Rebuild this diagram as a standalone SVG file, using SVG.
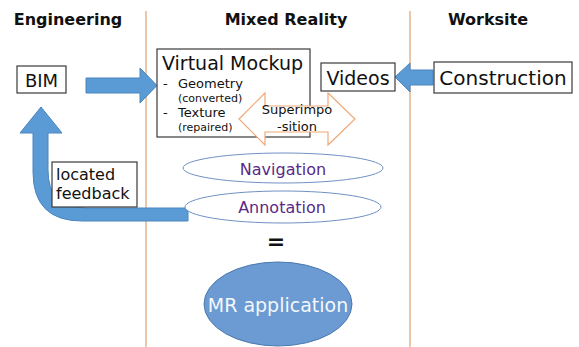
<svg xmlns="http://www.w3.org/2000/svg" width="579" height="347" viewBox="0 0 579 347">
<style>
text{font-family:"DejaVu Sans","Liberation Sans",sans-serif;fill:#111}
.hdr{font-size:16px;font-weight:bold;text-anchor:middle}
.box{fill:#fff;stroke:#3a3a3a;stroke-width:1.2}
.lane{stroke:#e0a070;stroke-width:1.2}
.blue{fill:#5b9bd5;stroke:#4a86c0;stroke-width:1}
.ell{fill:#fff;stroke:#7090c4;stroke-width:1}
.pur{fill:#5a2a86;font-size:16px;text-anchor:middle}
.sm{font-size:11px}
</style>
<rect width="579" height="347" fill="#fff"/>
<g id="lanes">
<line class="lane" x1="146" y1="11" x2="146" y2="347"/>
<line class="lane" x1="410" y1="11" x2="410" y2="347"/>
<text class="hdr" x="68" y="25">Engineering</text>
<text class="hdr" x="286" y="25">Mixed Reality</text>
<text class="hdr" x="488" y="25">Worksite</text>
</g>
<g id="connectors">
<polygon class="blue" points="86,78 140,78 140,68 157,85.5 140,103 140,93 86,93"/>
<polygon class="blue" points="433,70 410,70 410,63 395,77 410,92 410,85 433,85"/>
<path class="blue" d="M188,221 L82,221 Q33,221 33,172 L33,133 L20,133 L41,107 L62,133 L48,133 L48,170 Q48,208 86,208 L188,208 Z"/>
</g>
<g id="bim">
<rect class="box" x="17" y="66" width="49" height="27"/>
<text x="41.5" y="87" font-size="18" text-anchor="middle">BIM</text>
</g>
<g id="mockup">
<rect class="box" x="157" y="49" width="153" height="88"/>
<text x="162" y="70" font-size="19">Virtual Mockup</text>
<text x="163" y="88" font-size="13">-</text>
<text x="178" y="88" font-size="13">Geometry</text>
<text class="sm" x="178" y="102">(converted)</text>
<text x="163" y="117" font-size="13">-</text>
<text x="178" y="117" font-size="13">Texture</text>
<text class="sm" x="178" y="131">(repaired)</text>
</g>
<g id="videos">
<rect class="box" x="321" y="63" width="74" height="28"/>
<text x="358" y="85" font-size="19" text-anchor="middle">Videos</text>
</g>
<g id="construction">
<rect class="box" x="434" y="62" width="138" height="31"/>
<text x="503" y="85" font-size="20" text-anchor="middle">Construction</text>
</g>
<g id="superimposition">
<polygon points="239,119 265,93 265,106 328,106 328,93 355,119 328,145 328,132 265,132 265,145" fill="#fff" stroke="#f0a878" stroke-width="1.2"/>
<text x="297" y="114" font-size="13" text-anchor="middle">Superimpo</text>
<text x="297" y="131" font-size="13" text-anchor="middle">-sition</text>
</g>
<g id="feedback">
<rect class="box" x="52" y="162" width="85" height="45"/>
<text x="56" y="180" font-size="16">located</text>
<text x="56" y="199" font-size="16">feedback</text>
</g>
<g id="navigation">
<ellipse class="ell" cx="283" cy="168" rx="100" ry="15"/>
<text class="pur" x="283" y="175">Navigation</text>
</g>
<g id="annotation">
<ellipse class="ell" cx="283" cy="207" rx="98" ry="16"/>
<text class="pur" x="282" y="213">Annotation</text>
</g>
<g id="equals">
<text x="276" y="249" font-size="22" font-weight="bold" text-anchor="middle">=</text>
</g>
<g id="mr">
<ellipse cx="278" cy="304" rx="74" ry="42" fill="#6b9bd2" stroke="#4a78b0" stroke-width="1"/>
<text x="278" y="312" font-size="19" text-anchor="middle" style="fill:#f4f7fb">MR application</text>
</g>
</svg>
